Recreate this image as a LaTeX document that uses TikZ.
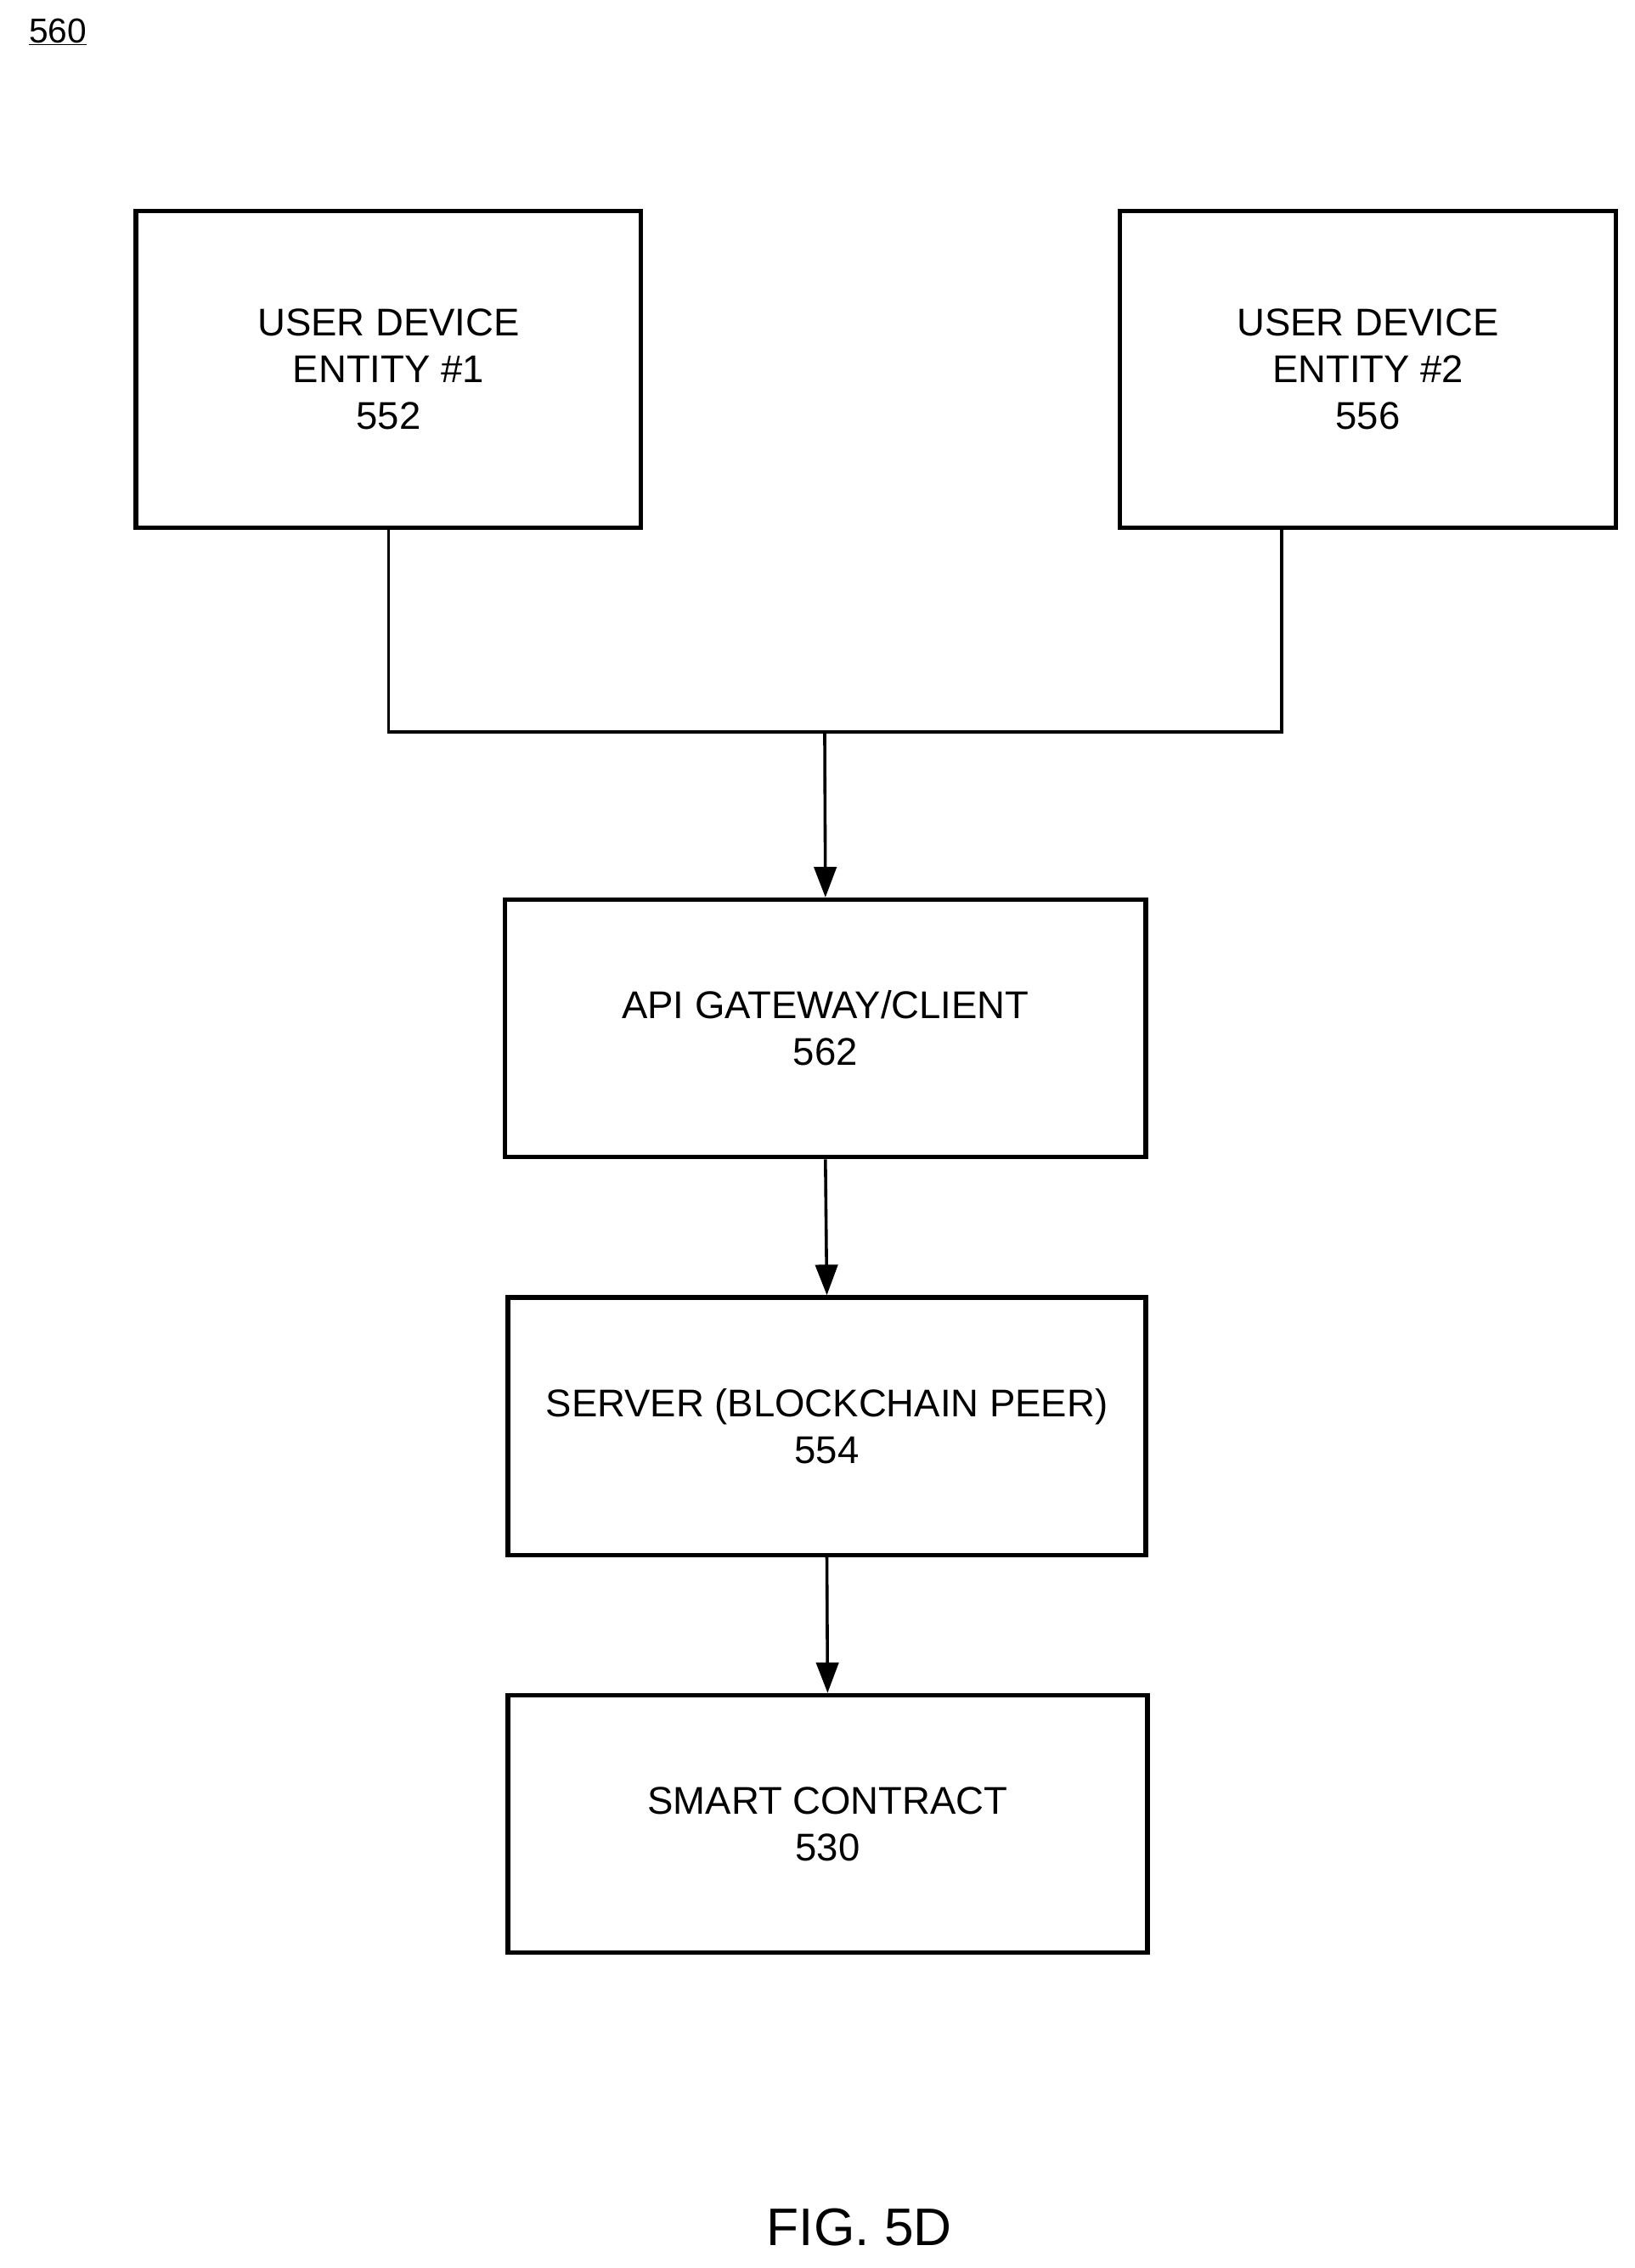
\documentclass[tikz,border=0pt]{standalone}
\usepackage{fontspec}
\setmainfont{Liberation Sans}
\usetikzlibrary{arrows.meta}
\begin{document}
\begin{tikzpicture}[x=0.05cm,y=-0.05cm,
  box/.style={draw,line width=4.5pt,inner sep=0pt,align=center,font=\fontsize{38}{46}\selectfont},
  line/.style={line width=3pt},
  arr/.style={line/.style,line width=3pt,-{Triangle[length=30pt,width=22pt]}}]
\useasboundingbox (0,0) rectangle (1130,1568);
\node[box,minimum width=349*0.05cm,minimum height=219*0.05cm] (u1) at (268.5,255.5) {USER DEVICE\\ENTITY \#1\\552};
\node[box,minimum width=343*0.05cm,minimum height=219*0.05cm] (u2) at (945.5,255.5) {USER DEVICE\\ENTITY \#2\\556};
\node[box,minimum width=443*0.05cm,minimum height=178*0.05cm] (api) at (570.5,711) {API GATEWAY/CLIENT\\562};
\node[box,minimum width=441*0.05cm,minimum height=178*0.05cm] (srv) at (571.5,986) {SERVER (BLOCKCHAIN PEER)\\554};
\node[box,minimum width=442*0.05cm,minimum height=178*0.05cm] (sc) at (572,1261) {SMART CONTRACT\\530};
\coordinate (j) at (570,506);
\draw[line] (u1.south) ++(0,0) |- (j) -| (886,365);
\draw[arr] (j) -- (api.north);
\draw[arr] (api.south) -- (srv.north);
\draw[arr] (srv.south) -- (sc.north);
\node[font=\fontsize{34}{40}\selectfont] (lbl) at (40,22) {\underline{560}};
\node[font=\fontsize{52}{60}\selectfont] (fig) at (594,1540) {FIG. 5D};
\end{tikzpicture}
\end{document}
